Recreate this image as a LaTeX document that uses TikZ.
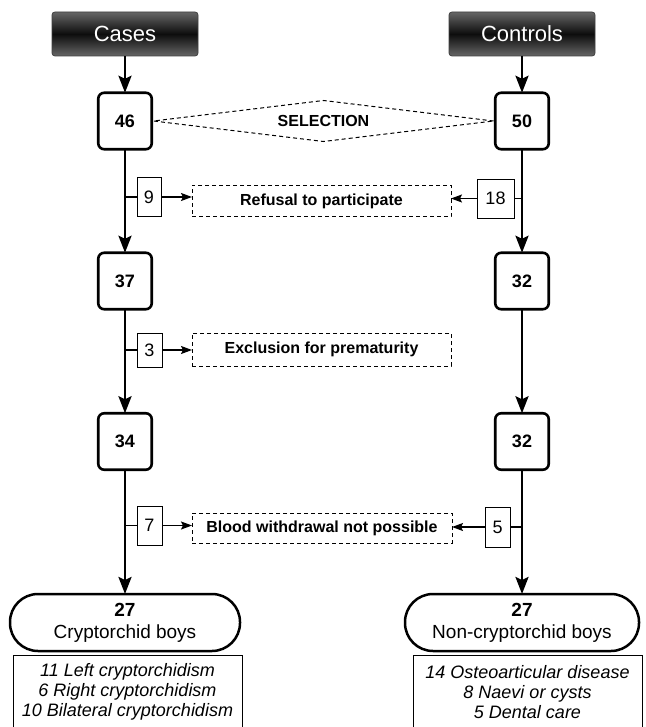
\documentclass[tikz,border=0pt]{standalone}
\usepackage{fontspec}
\setmainfont{Liberation Sans}
\usetikzlibrary{shapes.geometric,arrows.meta,calc}
\begin{document}
\begin{tikzpicture}[x=1pt,y=-1pt,
  every node/.style={inner sep=0pt, outer sep=0pt},
  header/.style={rounded corners=3pt, minimum width=146pt, minimum height=44pt,
    text=white, font=\fontsize{22}{26}\selectfont,
    top color=black!60, bottom color=black!60, middle color=black!95,
    draw=black!75, line width=0.8pt},
  countbox/.style={draw, line width=2.6pt, rounded corners=6pt, fill=white,
    minimum width=53.5pt, minimum height=56.5pt,
    font=\bfseries\fontsize{18}{22}\selectfont},
  lossbox/.style={draw, line width=0.9pt, minimum height=39pt,
    font=\fontsize{18}{22}\selectfont},
  reasonbox/.style={draw, dash pattern=on 4pt off 3pt, line width=1pt,
    minimum width=259pt, minimum height=31pt,
    font=\bfseries\fontsize{16}{20}\selectfont},
  selbox/.style={draw, shape=diamond, aspect=8.2, dash pattern=on 4pt off 3pt,
    line width=1pt, minimum width=340pt, minimum height=41pt,
    font=\bfseries\fontsize{16}{20}\selectfont},
  terminal/.style={draw, line width=2.5pt, rounded corners=28pt, fill=white,
    minimum height=57pt, align=center, font=\fontsize{19}{22}\selectfont},
  detail/.style={draw, line width=1pt, minimum width=229pt, minimum height=74pt,
    align=center, font=\itshape\fontsize{18}{20}\selectfont},
  mainline/.style={line width=2.5pt},
  mainarrow/.style={line width=2.5pt, -{Stealth[length=17pt,width=13pt,inset=3pt]}},
  tick/.style={line width=1.2pt},
  lossarrow/.style={line width=1.3pt, -{Stealth[length=11pt,width=8pt,inset=2pt]}}
]
\useasboundingbox[fill=white] (0,0) rectangle (645,727);

% headers
\node[header] (cases) at (125,34) {Cases};
\node[header] (controls) at (522,34) {Controls};

% count boxes
\node[countbox] (b46) at (125,121) {46};
\node[countbox] (b50) at (522,121) {50};
\node[countbox] (b37) at (125,281) {37};
\node[countbox] (b32a) at (522,281) {32};
\node[countbox] (b34) at (125,441.5) {34};
\node[countbox] (b32b) at (522,441.5) {32};

% selection
\node[selbox] (sel) at ($(b46.east)!0.5!(b50.west)$) {SELECTION};

% loss boxes
\node[lossbox, minimum width=24pt] (b9) at (149,197) {9};
\node[lossbox, minimum width=37pt] (b18) at (495.5,198.5) {18};
\node[lossbox, minimum width=25pt, minimum height=34pt] (b3) at (149.5,350) {3};
\node[lossbox, minimum width=25pt] (b7) at (149.5,525.5) {7};
\node[lossbox, minimum width=25pt, minimum height=40pt] (b5) at (497.5,527) {5};

% reasons
\node[reasonbox] (refusal) at (321.5,201) {Refusal to participate};
\node[reasonbox, minimum height=33pt] (excl) at (321.5,349.5) {Exclusion for prematurity};
\node[reasonbox, minimum width=260pt, minimum height=30pt] (blood) at (322,528) {Blood withdrawal not possible};

% terminals
\node[terminal, minimum width=230pt] (tcases) at (125,622.5) {{\bfseries 27}\\Cryptorchid boys};
\node[terminal, minimum width=234pt] (tcontrols) at (522,622.5) {{\bfseries 27}\\Non-cryptorchid boys};

% details
\node[detail] (dcases) at (127.5,692) {11 Left cryptorchidism\\6 Right cryptorchidism\\10 Bilateral cryptorchidism};
\node[detail] (dcontrols) at (527.5,692) {14 Osteoarticular disease\\8 Naevi or cysts\\5 Dental care};

% main flow
\draw[mainarrow] (cases) -- (b46);
\draw[mainarrow] (controls) -- (b50);
\draw[mainarrow] (b46) -- (b37);
\draw[mainarrow] (b50) -- (b32a);
\draw[mainarrow] (b37) -- (b34);
\draw[mainarrow] (b32a) -- (b32b);
\draw[mainarrow] (b34) -- (tcases);
\draw[mainarrow] (b32b) -- (tcontrols);

% ticks to loss boxes
\draw[tick] (b9.west) -- (b9.west -| b46);
\draw[tick] (b18.east) -- (b18.east -| b50);
\draw[tick] (b3.west) -- (b3.west -| b37);
\draw[tick] (b7.west) -- (b7.west -| b34);
\draw[tick] (b5.east) -- (b5.east -| b32b);

% loss arrows
\draw[lossarrow] (b9.east) -- (b9.east -| refusal.west);
\draw[lossarrow] (b18.west) -- (b18.west -| refusal.east);
\draw[lossarrow] (b3.east) -- (b3.east -| excl.west);
\draw[lossarrow] (b7.east) -- (b7.east -| blood.west);
\draw[lossarrow] (b5.west) -- (b5.west -| blood.east);
\end{tikzpicture}
\end{document}
